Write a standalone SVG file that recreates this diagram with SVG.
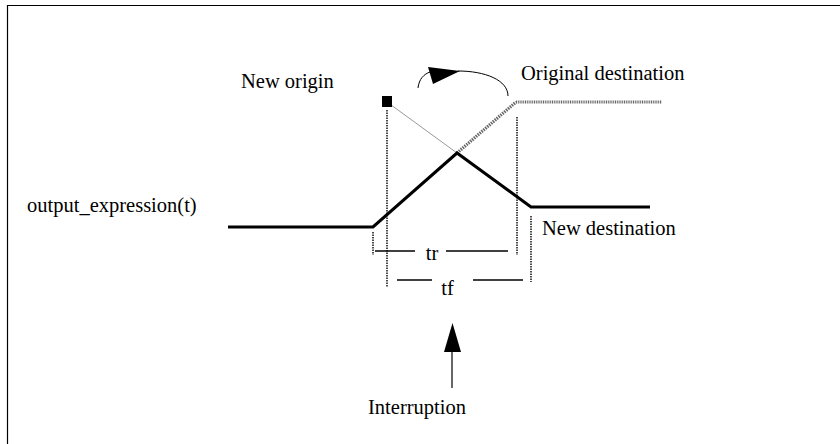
<svg xmlns="http://www.w3.org/2000/svg" width="840" height="444" viewBox="0 0 840 444">
<defs>
<style>
.t{font-family:"Liberation Serif","Times New Roman",serif;font-size:20.5px;fill:#000}
.thick{stroke:#000;stroke-width:3;fill:none}
.dot{stroke:#000;stroke-width:1.4;stroke-dasharray:1.5,1;fill:none}
.dim{stroke:#000;stroke-width:1.3;fill:none}
</style>
</defs>
<rect width="840" height="444" fill="#fff"/>
<path d="M7.5,444 V5.5 H840" stroke="#000" stroke-width="1.2" fill="none"/>
<g id="labels">
<text class="t" x="241" y="88">New origin</text>
<text class="t" x="521" y="80">Original destination</text>
<text class="t" x="27" y="212">output_expression(t)</text>
<text class="t" x="542" y="235">New destination</text>
<text class="t" x="432" y="260" text-anchor="middle">tr</text>
<text class="t" x="447.5" y="295" text-anchor="middle">tf</text>
<text class="t" x="417" y="414" text-anchor="middle">Interruption</text>
</g>
<g id="connectors">
<line x1="387" y1="102" x2="457" y2="153" stroke="#999" stroke-width="1"/>
<line x1="457" y1="153" x2="516" y2="102" stroke="#666" stroke-width="3.2" stroke-dasharray="1.5,1"/>
<line x1="516" y1="102" x2="662" y2="102" stroke="#666" stroke-width="3" stroke-dasharray="1,0.8"/>
<polyline class="thick" points="228,227 373,227 457,153 531,207 650,207"/>
<line class="dot" x1="387" y1="110" x2="387" y2="287"/>
<line class="dot" x1="373" y1="232" x2="373" y2="255"/>
<line class="dot" x1="517" y1="117" x2="517" y2="255"/>
<line class="dot" x1="531" y1="216" x2="531" y2="282"/>
<line class="dim" x1="375" y1="251" x2="415" y2="251"/>
<line class="dim" x1="446" y1="251" x2="508" y2="251"/>
<line class="dim" x1="397" y1="280" x2="432" y2="280"/>
<line class="dim" x1="473" y1="280" x2="523" y2="280"/>
<path d="M418,88 C419,79 424,74 430,72 M458,71 C485,71 508,80 508,96" stroke="#000" stroke-width="1" fill="none"/>
<polygon points="428,67 433,84 460,71" fill="#000"/>
<line x1="452" y1="350" x2="452" y2="388" stroke="#000" stroke-width="1.2"/>
<polygon points="444,352 461,352 452.5,323" fill="#000"/>
</g>
<g id="new-origin-marker">
<rect x="382" y="96" width="10" height="11" fill="#000"/>
</g>
</svg>
